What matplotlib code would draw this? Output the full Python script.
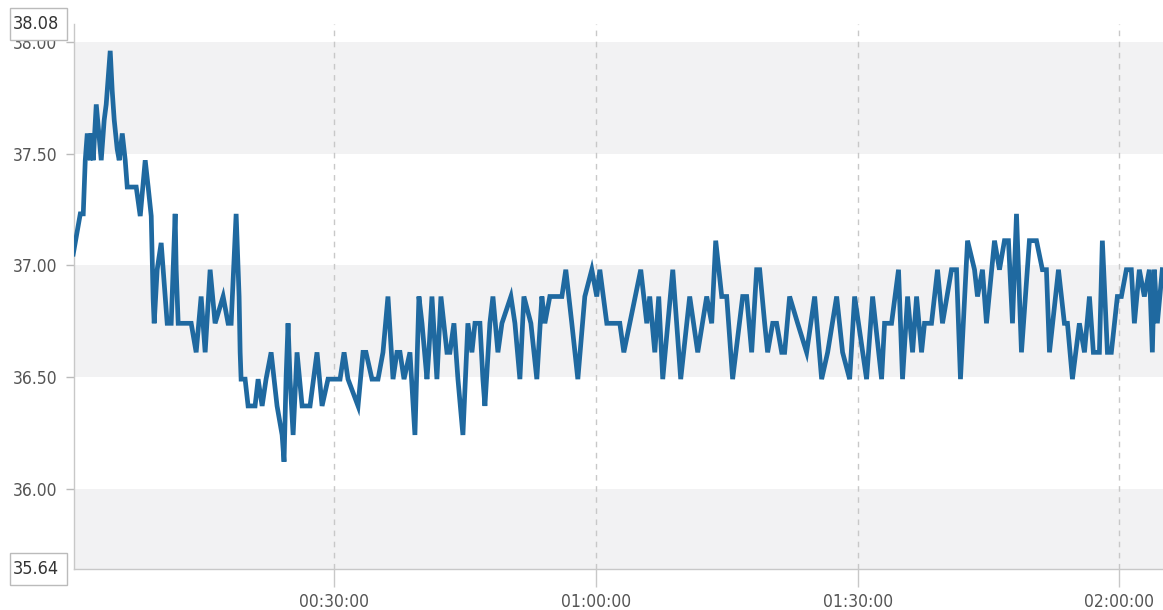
import matplotlib
matplotlib.use("Agg")
import matplotlib.pyplot as plt
from matplotlib.patches import Rectangle
from matplotlib.ticker import FuncFormatter

plt.rcParams['font.family'] = ['DejaVu Sans']
plt.rcParams['font.stretch'] = 'condensed'

# elapsed time in minutes
minutes = [0.11, 0.69, 0.92, 1.26, 1.49, 1.72, 2.06, 2.18, 2.40, 2.75, 3.32, 3.66, 3.89, 4.35, 4.58,
           4.81, 5.15, 5.38, 5.73, 6.07, 6.30, 7.33, 7.79, 8.36, 8.70, 9.05, 9.16, 9.27, 9.39, 9.73,
           10.19, 10.65, 10.88, 11.34, 11.79, 11.91, 12.14, 13.63, 14.20, 14.77, 15.23, 15.80, 16.37,
           17.29, 17.86, 18.21, 18.78, 19.12, 19.24, 19.35, 19.81, 20.15, 20.95, 21.30, 21.76, 22.21,
           22.79, 23.13, 23.47, 24.05, 24.27, 24.50, 24.73, 24.96, 25.31, 25.76, 26.34, 27.25, 28.05,
           28.63, 29.31, 30.69, 31.15, 31.60, 32.75, 33.32, 33.66, 34.35, 35.04, 35.61, 36.18, 36.76,
           37.21, 37.56, 38.02, 38.70, 39.27, 39.73, 40.08, 40.65, 40.88, 41.22, 41.79, 42.25, 42.94,
           43.28, 43.74, 44.20, 44.77, 45.34, 45.80, 46.15, 46.72, 47.06, 47.29, 47.86, 48.21, 48.78,
           49.24, 50.27, 50.73, 51.30, 51.76, 52.56, 53.24, 53.82, 54.16, 54.73, 56.11, 56.56, 57.25,
           57.94, 58.74, 59.54, 60.11, 60.46, 61.26, 62.75, 63.21, 63.89, 65.15, 65.84, 66.18, 66.76,
           67.21, 67.67, 68.82, 69.73, 70.76, 71.68, 72.71, 73.28, 73.74, 74.43, 75.00, 75.68, 76.83,
           77.29, 77.86, 78.43, 78.78, 79.35, 79.69, 80.27, 80.72, 81.30, 81.64, 82.21, 83.13, 84.16,
           85.08, 85.88, 86.57, 87.60, 88.28, 89.09, 89.66, 91.03, 91.72, 92.75, 93.09, 93.89, 94.69,
           95.15, 95.73, 96.30, 96.76, 97.33, 97.67, 98.47, 99.16, 99.73, 100.76, 101.34, 101.79,
           102.60, 103.40, 103.74, 104.31, 104.77, 105.69, 106.26, 106.83, 107.29, 107.75, 108.21,
           108.78, 109.69, 110.50, 111.18, 111.64, 111.99, 113.02, 113.70, 114.05, 114.62, 115.42,
           116.00, 116.57, 117.02, 117.71, 118.05, 118.63, 119.08, 119.77, 120.23, 120.80, 121.37,
           121.72, 122.29, 122.86, 123.44, 123.78, 124.01, 124.35, 124.92]

temps = [37.05, 37.18, 37.23, 37.23, 37.47, 37.59, 37.47, 37.59, 37.47, 37.72, 37.47, 37.65, 37.72, 37.96, 37.78,
         37.65, 37.52, 37.47, 37.59, 37.47, 37.35, 37.35, 37.22, 37.47, 37.35, 37.22, 37.03, 36.85, 36.74, 36.98,
         37.10, 36.86, 36.74, 36.74, 37.23, 36.98, 36.74, 36.74, 36.61, 36.86, 36.61, 36.98, 36.74,
         36.86, 36.74, 36.74, 37.23, 36.86, 36.61, 36.49, 36.49, 36.37, 36.37, 36.49, 36.37, 36.49,
         36.61, 36.49, 36.37, 36.24, 36.12, 36.49, 36.74, 36.49, 36.24, 36.61, 36.37, 36.37, 36.61,
         36.37, 36.49, 36.49, 36.61, 36.49, 36.37, 36.61, 36.61, 36.49, 36.49, 36.61, 36.86, 36.49,
         36.61, 36.61, 36.49, 36.61, 36.24, 36.86, 36.74, 36.49, 36.62, 36.86, 36.49, 36.86, 36.61,
         36.61, 36.74, 36.49, 36.24, 36.74, 36.61, 36.74, 36.74, 36.49, 36.37, 36.74, 36.86, 36.61,
         36.74, 36.86, 36.74, 36.49, 36.86, 36.74, 36.49, 36.86, 36.74, 36.86, 36.86, 36.98, 36.74,
         36.49, 36.86, 36.98, 36.86, 36.98, 36.74, 36.74, 36.61, 36.74, 36.98, 36.74, 36.86, 36.61,
         36.86, 36.49, 36.98, 36.49, 36.86, 36.61, 36.86, 36.74, 37.11, 36.86, 36.86, 36.49, 36.86,
         36.86, 36.61, 36.98, 36.98, 36.74, 36.61, 36.74, 36.74, 36.61, 36.61, 36.86, 36.74, 36.61,
         36.86, 36.49, 36.61, 36.86, 36.61, 36.49, 36.86, 36.49, 36.86, 36.49, 36.74, 36.74, 36.98,
         36.49, 36.86, 36.61, 36.86, 36.61, 36.74, 36.74, 36.98, 36.74, 36.98, 36.98, 36.49,
         37.11, 36.98, 36.86, 36.98, 36.74, 37.11, 36.98, 37.11, 37.11, 36.74, 37.23,
         36.61, 37.11, 37.11, 36.98, 36.98, 36.61, 36.98, 36.74, 36.74, 36.49, 36.74,
         36.61, 36.86, 36.61, 36.61, 37.11, 36.61, 36.61, 36.86, 36.86, 36.98, 36.98,
         36.74, 36.98, 36.86, 36.98, 36.61, 36.98, 36.74, 36.98]

y_min, y_max = 35.64, 38.08
y_ticks = [36.0, 36.5, 37.0, 37.5, 38.0]
x_ticks = [30, 60, 90, 120]
bands = [(37.5, 38.0), (36.5, 37.0), (y_min, 36.0)]

W, H = 1163, 610
fig = plt.figure(figsize=(W / 100, H / 100), dpi=100)
ax = fig.add_axes([74 / W, 41 / H, (W - 74) / W, (569 - 24) / H])

for lo, hi in bands:
    ax.axhspan(lo, hi, color='#f2f2f3', lw=0, zorder=0)

for t in x_ticks:
    ax.axvline(t, color='#c8c8c8', lw=1, ls=(0, (4, 4)), zorder=1)

ax.plot(minutes, temps, color='#1f69a0', lw=3.4, solid_joinstyle='miter', zorder=3)

ax.set_xlim(0.2, 125.0)
ax.set_ylim(y_min, y_max)
ax.set_yticks(y_ticks)
ax.set_xticks(x_ticks)
ax.yaxis.set_major_formatter(FuncFormatter(lambda v, p: '%.2f' % v))
ax.xaxis.set_major_formatter(FuncFormatter(
    lambda v, p: '%02d:%02d:00' % (int(v) // 60, int(v) % 60)))

for s in ['top', 'right']:
    ax.spines[s].set_visible(False)
for s in ['left', 'bottom']:
    ax.spines[s].set_color('#c8c8c8')
    ax.spines[s].set_linewidth(1)

ax.tick_params(axis='y', length=6, width=1, color='#bbbbbb', pad=6,
               labelsize=12.5, labelcolor='#555555')
ax.tick_params(axis='x', length=13, width=1, color='#c8c8c8', pad=4,
               labelsize=12.5, labelcolor='#555555')

# boxed min / max labels on the left
for val, top in [(y_max, 8), (y_min, 553)]:
    fig.patches.append(Rectangle((10 / W, (H - top - 32) / H), 57 / W, 32 / H,
                                 transform=fig.transFigure, facecolor='white',
                                 edgecolor='#bbbbbb', lw=1))
    fig.text(13 / W, (H - top - 16) / H, '%.2f' % val, ha='left', va='center',
             fontsize=13, color='#333333')

fig.savefig('out.png', dpi=100)
